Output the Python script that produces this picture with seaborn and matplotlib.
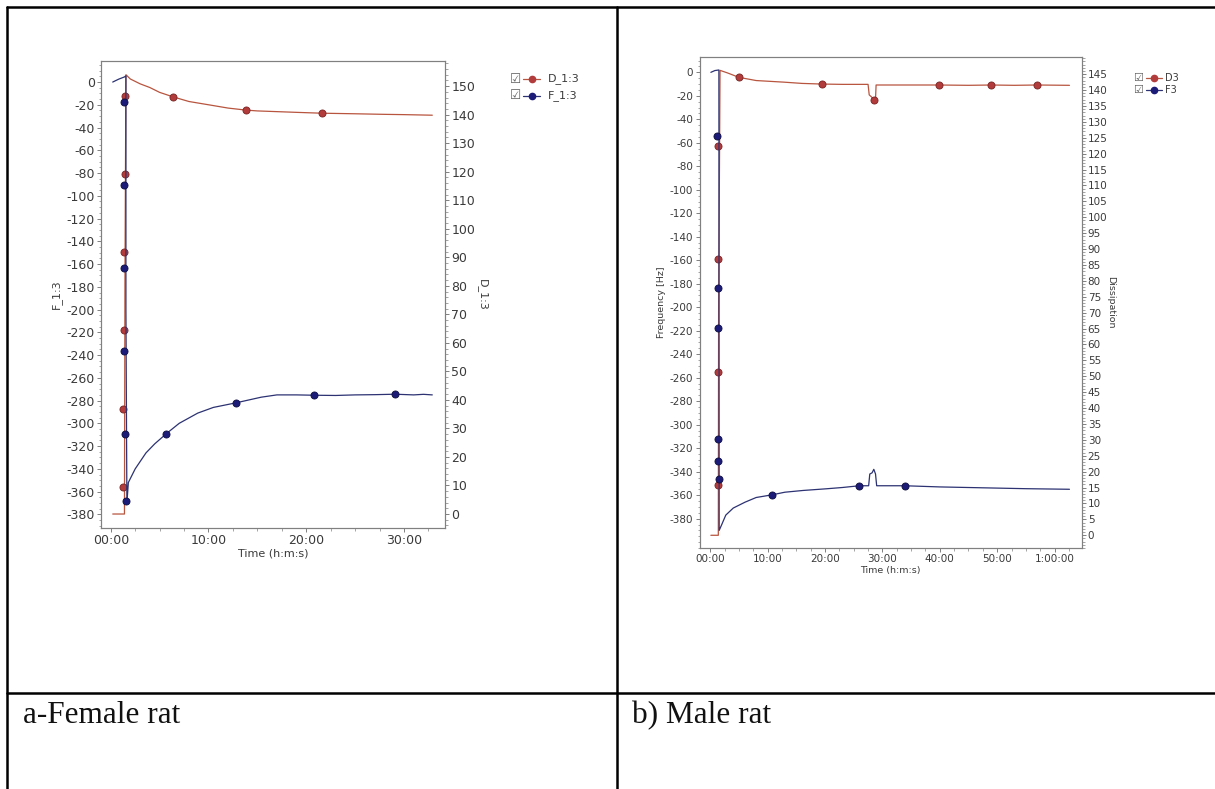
import matplotlib
matplotlib.use("Agg")
import matplotlib.pyplot as plt
import seaborn as sns
from matplotlib.lines import Line2D
from matplotlib.ticker import AutoMinorLocator, MultipleLocator, FixedLocator

# ---- a) female rat, time in minutes
fem_f_t = [0.2, 0.8, 1.4, 1.55, 1.55, 1.65, 1.8, 2.5, 3.6, 4.5, 5.7, 7.0, 8.9, 10.5, 12.8, 15.4,
           17.0, 19.0, 20.8, 23.0, 25.0, 27.0, 29.1, 31.0, 32.0, 32.9]
fem_f_v = [0, 2.5, 4.5, 5.5, -200, -370, -352, -340, -326, -318, -309, -300, -291, -286, -282, -277,
           -275, -275, -275.3, -275.5, -275, -274.8, -274.4, -275, -274.5, -275]
fem_d_t = [0.2, 1.4, 1.45, 1.55, 2.0, 3.0, 4.0, 5.0, 6.4, 8.0, 10.1, 12.0, 13.8, 15.0, 17.4, 19.0,
           21.6, 25.0, 28.0, 30.0, 32.9]
fem_d_v = [0, 0, 80, 154, 152.5, 150.8, 149.5, 147.8, 146.2, 144.6, 143.4, 142.3, 141.6, 141.3, 141.0,
           140.8, 140.5, 140.3, 140.1, 140.0, 139.8]
fem_f_mt = [1.35, 1.35, 1.4, 1.4, 1.45, 1.6, 5.7, 12.8, 20.8, 29.1]
fem_f_mv = [-17.6, -90.6, -163.6, -236.6, -309.3, -368.2, -309.3, -282, -275.3, -274.4]
fem_d_mt = [1.5, 1.45, 1.4, 1.35, 1.3, 1.3, 6.4, 13.8, 21.6]
fem_d_mv = [146.5, 119.2, 91.8, 64.5, 36.8, 9.5, 146.2, 141.6, 140.5]

# ---- b) male rat
male_f_t = [0.1, 0.8, 1.5, 1.55, 2.0, 2.7, 4.0, 6.05, 8.0, 10.8, 13.0, 16.2, 20.2, 23.0, 26.0, 27.6,
            27.8, 28.2, 28.5, 28.8, 29.0, 33.9, 40.0, 45.0, 50.0, 55.0, 62.6]
male_f_v = [0, 1.5, 2, -390, -385, -377, -371, -366, -362, -359.7, -357.5, -356, -354.6, -353.5, -352, -352,
            -342, -341, -338, -342, -352, -352, -353, -353.5, -354, -354.5, -355]
male_d_t = [0.1, 1.4, 1.45, 1.7, 3.0, 5.0, 8.0, 12.8, 16.0, 19.4, 23.0, 27.5, 27.7, 28.3, 28.6, 28.8,
            28.9, 33.0, 39.8, 45.0, 49.0, 53.0, 56.9, 62.6]
male_d_v = [0, 0, 70, 146.2, 145.4, 144.0, 143.0, 142.5, 142.1, 141.9, 141.8, 141.8, 138.5, 137.5, 136.9,
            137.2, 141.6, 141.6, 141.6, 141.5, 141.6, 141.5, 141.6, 141.5]
male_f_mt = [1.25, 1.3, 1.35, 1.35, 1.4, 1.45, 10.8, 26.0, 33.9]
male_f_mv = [-54.5, -183.8, -217.3, -312.6, -331, -346.4, -359.7, -352, -352]
male_d_mt = [1.35, 1.35, 1.35, 1.3, 5.0, 19.4, 28.6, 39.8, 49.0, 56.9]
male_d_mv = [122.4, 87.0, 51.4, 15.9, 144.0, 141.9, 136.9, 141.6, 141.6, 141.6]

fem_xticks = [0, 10, 20, 30]
fem_xlabels = ["00:00", "10:00", "20:00", "30:00"]
male_xticks = [0, 10, 20, 30, 40, 50, 60]
male_xlabels = ["00:00", "10:00", "20:00", "30:00", "40:00", "50:00", "1:00:00"]

captions = ["a-Female rat", "b) Male rat"]

RED_LINE = "#b8553f"
RED_MK = "#b23b3b"
BLUE_LINE = "#2c3272"
BLUE_MK = "#1c1c78"
TXT = "#3a3a3a"
GRID = "#808080"

sns.set_theme(style="white")
plt.rcParams["font.family"] = ["DejaVu Sans"]
plt.rcParams["axes.unicode_minus"] = False

W, H = 1215, 789
fig = plt.figure(figsize=(W / 100, H / 100), dpi=100)


def fx(x):
    return x / W


def fy(y):
    return 1 - y / H


def panel(box, ft, fv, dt, dv, fmt, fmv, dmt, dmv, xlim, ylim, y2lim, xticks, xlabels,
          y2step, fs, lab_fs, ylab, y2lab, r_pad, names, leg):
    x0, y0, x1, y1 = box
    ax = fig.add_axes([fx(x0), fy(y1), (x1 - x0) / W, (y1 - y0) / H])
    ax2 = ax.twinx()
    # dissipation (right axis)
    sns.lineplot(x=dt, y=dv, ax=ax2, estimator=None, sort=False, color=RED_LINE, linewidth=0.9)
    sns.scatterplot(x=dmt, y=dmv, ax=ax2, color=RED_MK, edgecolor="#7a2222", linewidth=0.6, s=26, zorder=5)
    # frequency (left axis)
    sns.lineplot(x=ft, y=fv, ax=ax, estimator=None, sort=False, color=BLUE_LINE, linewidth=0.9)
    sns.scatterplot(x=fmt, y=fmv, ax=ax, color=BLUE_MK, edgecolor="#0d0d40", linewidth=0.6, s=26, zorder=5)
    ax.set_zorder(ax2.get_zorder() + 1)
    ax.patch.set_visible(False)

    ax.set_xlim(*xlim)
    ax.set_ylim(*ylim)
    ax2.set_ylim(*y2lim)
    ax.xaxis.set_major_locator(FixedLocator(xticks))
    ax.set_xticklabels(xlabels)
    ax.xaxis.set_minor_locator(AutoMinorLocator(4))
    ax.yaxis.set_major_locator(MultipleLocator(20))
    ax.yaxis.set_minor_locator(AutoMinorLocator(4))
    ax.set_yticks(list(range(0, -381, -20)))
    ax2.set_yticks(list(range(0, int(y2lim[1]), y2step)))
    ax2.yaxis.set_minor_locator(AutoMinorLocator(5))

    for a in (ax, ax2):
        for s in a.spines.values():
            s.set_color(GRID)
            s.set_linewidth(0.8)
        a.tick_params(which="major", length=3, width=0.7, color=GRID, labelsize=fs, labelcolor=TXT, pad=1.5)
        a.tick_params(which="minor", length=1.8, width=0.5, color=GRID)
    ax.tick_params(axis="both", which="both", bottom=True, left=True, direction="out")
    ax2.tick_params(axis="y", which="both", right=True, direction="out")

    ax.set_xlabel("Time (h:m:s)", fontsize=lab_fs, color=TXT, labelpad=1)
    ax.set_ylabel(ylab, fontsize=lab_fs, color=TXT, labelpad=3)
    ax2.set_ylabel(y2lab, fontsize=lab_fs, color=TXT, rotation=270, labelpad=r_pad)

    # legend with check boxes
    lx0, lx1, tx, rows, lfs = leg
    for name, yy, lc, mc in zip(names, rows, [RED_LINE, BLUE_LINE], [RED_MK, BLUE_MK]):
        fig.text(fx(lx0 - 13), fy(yy), "\u2611", fontsize=lfs + 1, color="#606060", va="center", ha="left")
        fig.add_artist(Line2D([fx(lx0), fx((lx0 + lx1) / 2), fx(lx1)], [fy(yy)] * 3, color=lc,
                              linewidth=0.9, marker="o", markevery=[1], markersize=4.5,
                              markerfacecolor=mc, markeredgecolor=mc, transform=fig.transFigure))
        fig.text(fx(tx), fy(yy), name, fontsize=lfs, color=TXT, va="center", ha="left")
    return ax


panel((101, 61, 445, 528), fem_f_t, fem_f_v, fem_d_t, fem_d_v, fem_f_mt, fem_f_mv, fem_d_mt, fem_d_mv,
      (-1.0, 34.2), (-392, 18.5), (-4.9, 158.8), fem_xticks, fem_xlabels, 10, 9, 8,
      "F_1:3", "D_1:3", 9, ["D_1:3", "F_1:3"], (523, 540, 548, [79, 95.7], 8))

panel((699.5, 56.7, 1081.5, 548), male_f_t, male_f_v, male_d_t, male_d_v, male_f_mt, male_f_mv,
      male_d_mt, male_d_mv, (-1.88, 64.7), (-405, 13.3), (-4.0, 150.5), male_xticks, male_xlabels,
      5, 7.5, 6.8, "Frequency [Hz]", "Dissipation", 5.5, ["D3", "F3"], (1146, 1162, 1165, [77.7, 90.3], 7))

# table borders
lw = 1.8
for xs, ys in [((7, 1215), (7, 7)), ((7, 1215), (693, 693)), ((7, 7), (7, 789)), ((616.5, 616.5), (7, 789))]:
    fig.add_artist(Line2D([fx(xs[0]), fx(xs[1])], [fy(ys[0]), fy(ys[1])], color="black", linewidth=lw,
                          transform=fig.transFigure))

for cx, cap in zip([22.7, 631.7], captions):
    fig.text(fx(cx), fy(723), cap, fontsize=22.5, family="Liberation Serif", color="#111111",
             va="baseline", ha="left")

fig.savefig("out.png", dpi=100, facecolor="white")
